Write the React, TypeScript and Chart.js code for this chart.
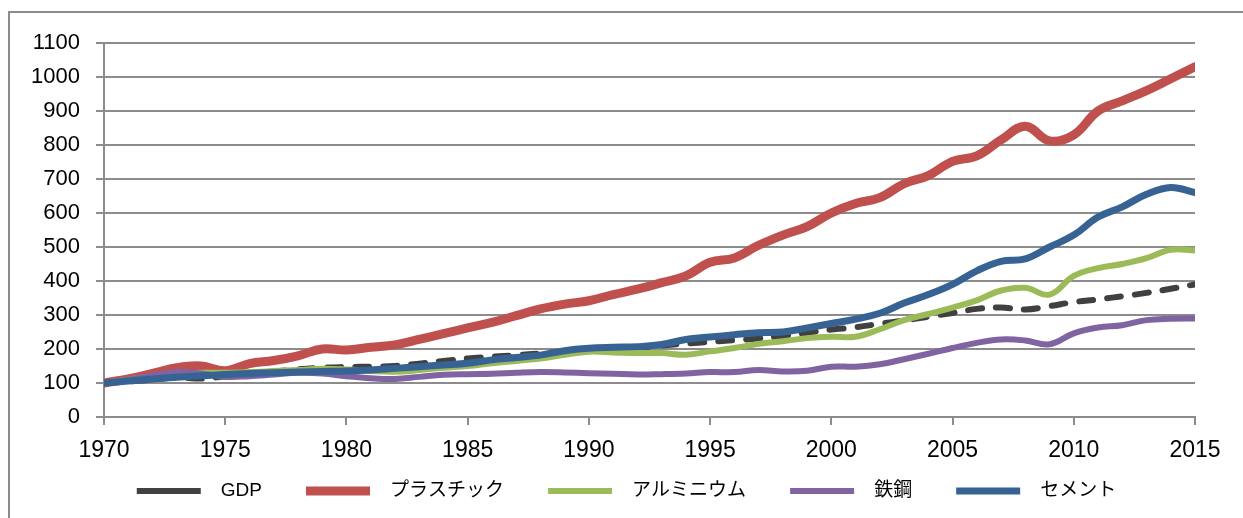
import React, { useEffect, useRef } from 'react';
import { Chart, registerables } from 'chart.js';

Chart.register(...registerables);

const years = [
  1970, 1971, 1972, 1973, 1974, 1975, 1976, 1977, 1978, 1979,
  1980, 1981, 1982, 1983, 1984, 1985, 1986, 1987, 1988, 1989,
  1990, 1991, 1992, 1993, 1994, 1995, 1996, 1997, 1998, 1999,
  2000, 2001, 2002, 2003, 2004, 2005, 2006, 2007, 2008, 2009,
  2010, 2011, 2012, 2013, 2014, 2015,
];

const seriesLabels = ['GDP', 'プラスチック', 'アルミニウム', '鉄鋼', 'セメント'];

const gdp = [
  100, 104, 110, 116, 113, 120, 128, 134, 140, 145,
  147, 148, 150, 157, 165, 172, 177, 182, 187, 192,
  196, 200, 204, 210, 216, 221, 226, 231, 238, 248,
  257, 264, 274, 284, 295, 306, 318, 322, 316, 326,
  338, 346, 355, 365, 377, 390,
];

const plastic = [
  100, 112, 128, 145, 150, 136, 157, 166, 180, 200,
  197, 205, 212, 228, 245, 262, 278, 298, 318, 332,
  342, 360, 376, 395, 415, 455, 468, 505, 535, 560,
  600, 628, 645, 686, 710, 752, 768, 815, 855, 812,
  830, 900, 930, 960, 995, 1030,
];

const aluminium = [
  100, 110, 120, 125, 130, 130, 132, 135, 138, 142,
  140, 135, 133, 138, 145, 150, 158, 165, 172, 183,
  192, 190, 188, 188, 183, 193, 203, 215, 223, 232,
  236, 236, 258, 285, 303, 322, 343, 372, 380, 360,
  415, 438, 450, 467, 492, 490,
];

const steel = [
  100, 110, 122, 132, 128, 118, 120, 125, 130, 128,
  120, 114, 112, 118, 124, 126, 127, 130, 132, 131,
  129, 127, 125, 126, 128, 132, 132, 138, 134, 136,
  148, 148, 155, 170, 186, 203, 218, 228, 225, 214,
  246, 263, 270, 285, 289, 290,
];

const cement = [
  100, 106, 112, 117, 121, 125, 128, 130, 132, 134,
  135, 138, 143, 148, 153, 158, 168, 175, 182, 195,
  202, 205, 207, 213, 228, 235, 242, 248, 250, 262,
  275, 288, 305, 335, 360, 390, 430, 458, 465, 500,
  535, 588, 618, 655, 675, 660,
];

const seriesValues = [gdp, plastic, aluminium, steel, cement];
const seriesColors = ['#404040', '#C0504D', '#9BBB59', '#8064A2', '#376394'];
const seriesWidths = [6, 9, 6, 6, 7];
const seriesDashes: number[][] = [[14, 14], [], [], [], []];
const seriesOrder = [5, 4, 3, 2, 1];

const FONT = "'Liberation Sans', Arial, 'Noto Sans CJK JP', sans-serif";
const GRID = '#8c8c8c';

const legendOffset = {
  id: 'legendOffset',
  afterLayout(chart: any, _args: any, opts: any) {
    const lg = chart.legend;
    if (!lg) return;
    const dx = opts.dx || 0;
    const dy = opts.dy || 0;
    lg.left += dx;
    lg.right += dx;
    lg.top += dy;
    lg.bottom = chart.height;
  },
};

export default function App() {
  const ref = useRef<HTMLCanvasElement>(null);

  useEffect(() => {
    if (!ref.current) return;
    const chart = new Chart(ref.current, {
      type: 'line',
      plugins: [legendOffset],
      data: {
        datasets: seriesLabels.map((label, i) => ({
          label,
          data: years.map((yr, j) => ({ x: yr, y: seriesValues[i][j] })),
          borderColor: seriesColors[i],
          backgroundColor: seriesColors[i],
          borderWidth: seriesWidths[i],
          borderDash: seriesDashes[i],
          borderCapStyle: 'round',
          borderJoinStyle: 'round',
          pointRadius: 0,
          pointHoverRadius: 0,
          tension: 0.4,
          fill: false,
          order: seriesOrder[i],
        })),
      },
      options: {
        animation: false,
        responsive: true,
        maintainAspectRatio: false,
        events: [],
        layout: { padding: { left: 20, right: 48, top: 43, bottom: 21 } },
        plugins: {
          tooltip: { enabled: false },
          legendOffset: { dx: 19, dy: -29.5 },
          legend: {
            position: 'bottom',
            reverse: true,
            maxHeight: 30,
            labels: {
              usePointStyle: true,
              pointStyle: 'line',
              pointStyleWidth: 64,
              padding: 44,
              color: '#000',
              font: { size: 19, family: FONT },
              generateLabels: (c: any) =>
                Chart.defaults.plugins.legend.labels
                  .generateLabels(c)
                  .map((it: any) => ({ ...it, text: '  ' + it.text })),
            },
          },
        },
        scales: {
          x: {
            type: 'linear',
            min: 1970,
            max: 2015,
            afterFit: (s: any) => { s.height = 50; },
            ticks: {
              stepSize: 5,
              autoSkip: false,
              maxRotation: 0,
              padding: 12,
              color: '#000',
              font: { size: 23, family: FONT },
              callback: (v: any) => String(v),
            },
            grid: { drawOnChartArea: false, drawTicks: true, tickLength: 8, color: GRID, lineWidth: 2 },
            border: { display: true, color: GRID, width: 2 },
          },
          y: {
            min: 0,
            max: 1100,
            afterFit: (s: any) => { s.width = 84; },
            ticks: {
              stepSize: 100,
              padding: 16,
              color: '#000',
              font: { size: 22, family: FONT },
              callback: (v: any) => String(v),
            },
            grid: { color: GRID, lineWidth: 2, tickLength: 8, drawTicks: true },
            border: { display: true, color: GRID, width: 2 },
          },
        },
      },
    } as any);
    return () => chart.destroy();
  }, []);

  return (
    <div style={{ position: 'fixed', left: 0, top: 0, width: 1243, height: 518, overflow: 'hidden', background: '#fff' }}>
      <div style={{ position: 'absolute', left: 8, top: 11, width: 1300, height: 600, border: '2px solid #8c8c8c' }} />
      <div style={{ position: 'absolute', left: 0, top: 0, width: 1243, height: 518 }}>
        <canvas ref={ref} />
      </div>
    </div>
  );
}
